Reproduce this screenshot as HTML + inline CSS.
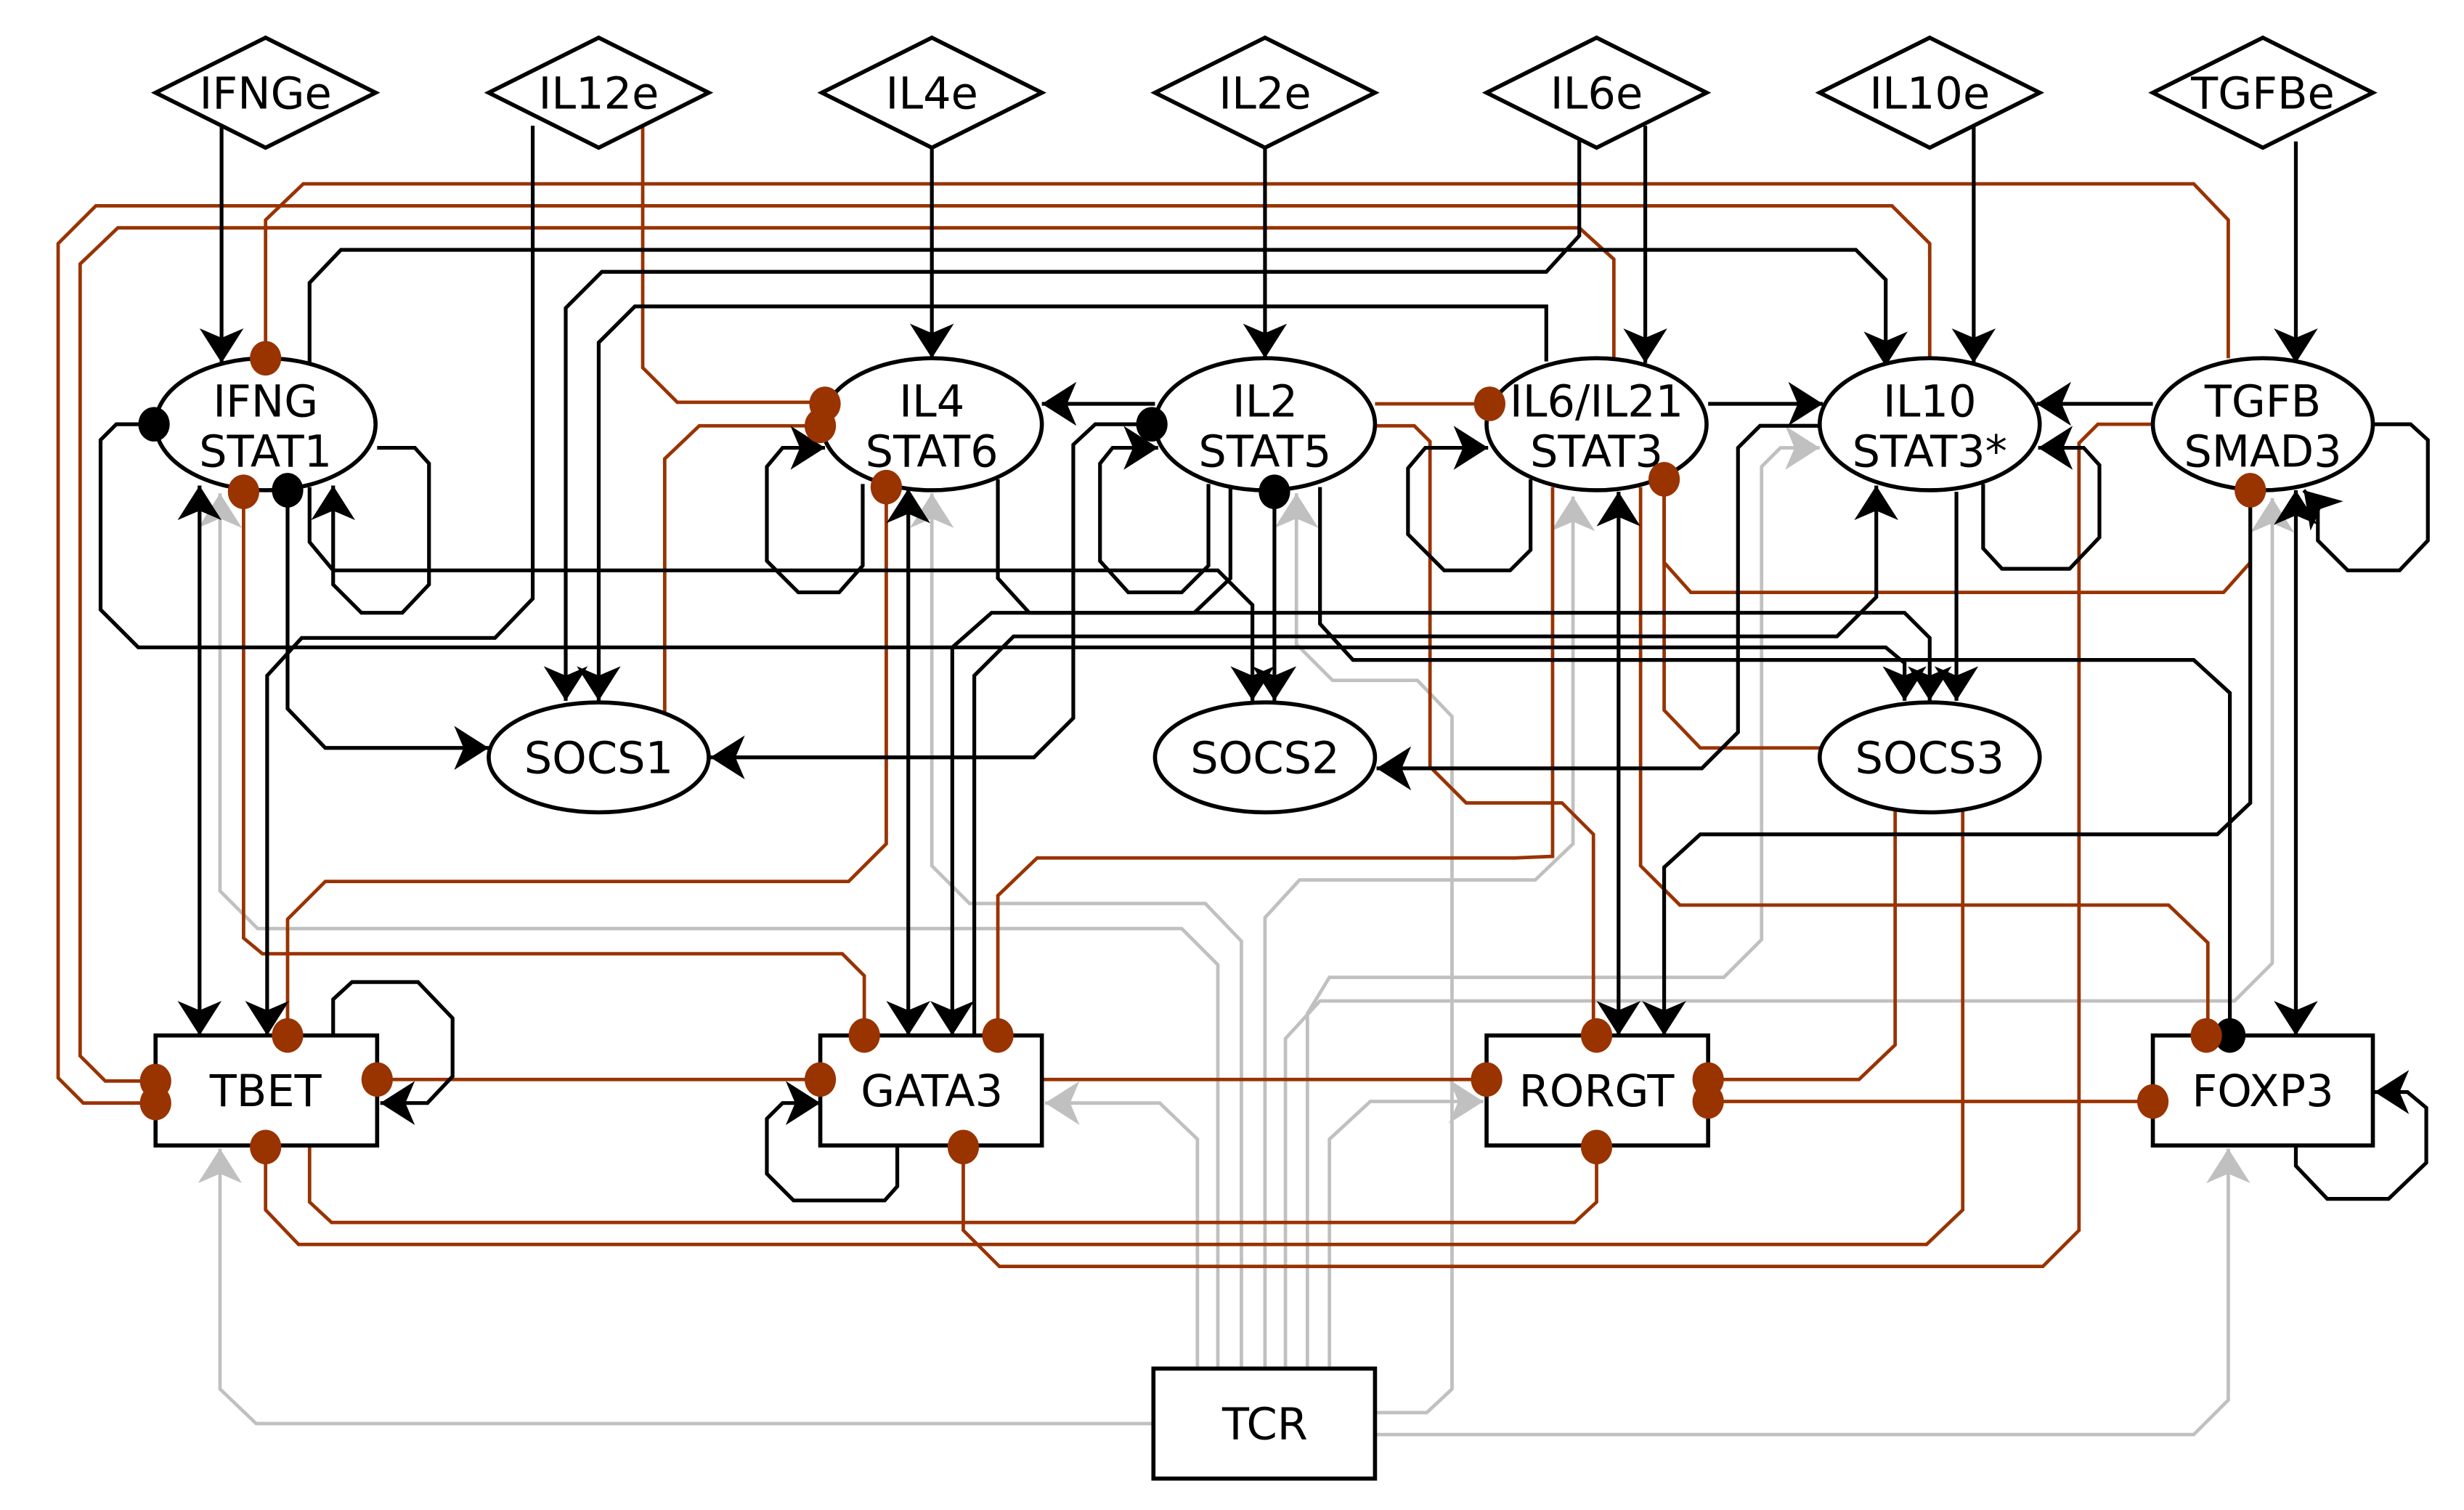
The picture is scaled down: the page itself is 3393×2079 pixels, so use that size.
<!DOCTYPE html>
<html><head><meta charset="utf-8"><style>
html,body{margin:0;padding:0;background:#fff}
svg{display:block}
text{font-family:"DejaVu Sans","Liberation Sans",sans-serif;font-size:28px;fill:#000}
</style></head><body>
<svg width="3393" height="2079" viewBox="0 0 1568 961" preserveAspectRatio="none" xmlns="http://www.w3.org/2000/svg">
<defs>
<marker id="ab" markerUnits="userSpaceOnUse" markerWidth="26" markerHeight="30" refX="22" refY="14" orient="auto-start-reverse" viewBox="0 0 26 30">
<path d="M0,0 L22,14 L0,28 L6,14 Z" fill="#000"/></marker>
<marker id="ag" markerUnits="userSpaceOnUse" markerWidth="26" markerHeight="30" refX="22" refY="14" orient="auto-start-reverse" viewBox="0 0 26 30">
<path d="M0,0 L22,14 L0,28 L6,14 Z" fill="#c0c0c0"/></marker>
</defs>
<rect width="1568" height="961" fill="#fff"/>

<g fill="none" stroke="#c0c0c0" stroke-width="2.2" marker-end="url(#ag)">
<path d="M734,906 H163 L140,884 V731"/>
<path d="M875,913 H1396 L1418,891 V731"/>
<path d="M875,899 H908 L924,884 V456 L902,433 H848 L825,410 V314"/>
<path d="M762,871 V725 L738,702 H665"/>
<path d="M775,871 V614 L752,591 H164 L140,567 V314"/>
<path d="M790,871 V599 L767,575 H617 L593,551 V314"/>
<path d="M805,871 V584 L827,560 H977 L1001,537 V316"/>
<path d="M818,871 V661 L840,637 H1422 L1446,613 V317"/>
<path d="M832,871 V645 L846,622 H1097 L1121,598 V297 L1133,285 H1158"/>
<path d="M846,871 V725 L872,701 H944"/>
</g>

<g fill="none" stroke="#993300" stroke-width="2.2">
<path d="M1418,228 V140 L1396,117 H193 L169,140 V228"/>
<path d="M1228,228 V155 L1204,131 H61 L37,155 V686 L53,702 H99"/>
<path d="M1027,228 V165 L1005,145 H75 L51,168 V672 L67,688 H99"/>
<path d="M409,80 V234 L431,256 H522"/>
<path d="M423,453 V292 L445,271 H522"/>
<path d="M875,257 H948"/>
<path d="M875,271 H900 L910,281 V488 L933,511 H994 L1014,531 V659"/>
<path d="M988,310 V545 L964,546 H660 L635,570 V659"/>
<path d="M1044,310 V551 L1069,576 H1380 L1405,600 V659"/>
<path d="M1059,305 V358 L1076,377 H1415 L1432,358 V313"/>
<path d="M1158,476 H1082 L1059,452 V305"/>
<path d="M564,310 V537 L540,561 H207 L183,585 V659"/>
<path d="M155,313 V597 L167,607 H536 L550,621 V659"/>
<path d="M1370,270 H1335 L1323,282 V783 L1300,806 H636 L613,783 V730"/>
<path d="M1206,515 V665 L1183,687 H1087"/>
<path d="M1249,515 V770 L1226,792 H190 L169,770 V730"/>
<path d="M197,730 V765 L211,778 H1002 L1016,765 V730"/>
<path d="M240,687 H522"/>
<path d="M663,687 H946"/>
<path d="M1087,701 H1370"/>
</g>

<g fill="none" stroke="#000" stroke-width="2.4">
<path d="M840,310 V397 L861,420 H1396 L1419,441 V659"/>
<g marker-end="url(#ab)">
<path d="M141,80 V231"/>
<path d="M593,94 V228"/>
<path d="M805,94 V228"/>
<path d="M1047,80 V231"/>
<path d="M1256,80 V231"/>
<path d="M1461,90 V231"/>
<path d="M197,231 V180 L217,159 H1181 L1200,178 V233"/>
<path d="M1005,88 V150 L984,173 H383 L360,196 V446"/>
<path d="M984,230 V195 H404 L381,218 V446"/>
<path d="M735,257 H663"/>
<path d="M1087,257 H1160"/>
<path d="M1370,257 H1296"/>
<path d="M1262,308 V349 L1274,362 H1317 L1336,342 V296 L1326,285 H1297"/>
<path d="M1511,270 H1534 L1545,280 V344 L1527,363 H1494 L1475,344 V322 L1466,312"/>
<path d="M240,285 H264 L273,295 V372 L256,390 H230 L212,372 V309"/>
<path d="M197,310 V345 L212,363 H775 L797,385 V446"/>
<path d="M549,308 V360 L534,377 H508 L488,357 V297 L498,285 H525"/>
<path d="M769,308 V360 L752,377 H718 L700,357 V295 L708,285 H737"/>
<path d="M974,305 V350 L961,363 H919 L896,340 V298 L907,285 H947"/>
<path d="M733,270 H697 L683,283 V457 L658,482 H452"/>
<path d="M183,313 V451 L207,476 H311"/>
<path d="M339,80 V381 L315,406 H192 L170,430 V659"/>
<path d="M635,305 V368 L655,390 H1212 L1228,406 V446"/>
<path d="M783,308 V368 L760,390 H631 L606,412 V659"/>
<path d="M620,659 V430 L645,405 H1169 L1194,380 V309"/>
<path d="M98,270 H74 L64,280 V388 L88,412 H1200 L1212,422 V446"/>
<path d="M811,313 V446"/>
<path d="M1158,271 H1120 L1106,285 V466 L1083,489 H876"/>
<path d="M1432,311 V511 L1411,531 H1082 L1059,552 V659"/>
<path d="M212,659 V636 L224,625 H266 L288,648 V685 L272,702 H242"/>
<path d="M571,730 V755 L563,764 H505 L488,747 V712 L498,702 H522"/>
<path d="M1461,730 V742 L1481,763 H1520 L1544,740 V705 L1532,695 H1511"/>
<path d="M1245,313 V446"/>
</g>
<g marker-start="url(#ab)" marker-end="url(#ab)">
<path d="M127,309 V659"/>
<path d="M578,311 V659"/>
<path d="M1030,313 V659"/>
<path d="M1461,312 V659"/>
</g>
</g>

<g fill="#fff" stroke="#000" stroke-width="2.6">
<polygon points="169,24 239,59 169,94 99,59"/>
<polygon points="381,24 451,59 381,94 311,59"/>
<polygon points="593,24 663,59 593,94 523,59"/>
<polygon points="805,24 875,59 805,94 735,59"/>
<polygon points="1016,24 1086,59 1016,94 946,59"/>
<polygon points="1228,24 1298,59 1228,94 1158,59"/>
<polygon points="1440,24 1510,59 1440,94 1370,59"/>
<ellipse cx="169" cy="270" rx="70" ry="42"/>
<ellipse cx="593" cy="270" rx="70" ry="42"/>
<ellipse cx="805" cy="270" rx="70" ry="42"/>
<ellipse cx="1016" cy="270" rx="70" ry="42"/>
<ellipse cx="1228" cy="270" rx="70" ry="42"/>
<ellipse cx="1440" cy="270" rx="70" ry="42"/>
<ellipse cx="381" cy="482" rx="70" ry="35"/>
<ellipse cx="805" cy="482" rx="70" ry="35"/>
<ellipse cx="1228" cy="482" rx="70" ry="35"/>
<rect x="99" y="659" width="141" height="70"/>
<rect x="522" y="659" width="141" height="70"/>
<rect x="946" y="659" width="141" height="70"/>
<rect x="1370" y="659" width="140" height="70"/>
<rect x="734" y="871" width="141" height="70"/>
</g>

<g text-anchor="middle">
<text x="169" y="69">IFNGe</text>
<text x="381" y="69">IL12e</text>
<text x="593" y="69">IL4e</text>
<text x="805" y="69">IL2e</text>
<text x="1016" y="69">IL6e</text>
<text x="1228" y="69">IL10e</text>
<text x="1440" y="69">TGFBe</text>
<text x="169" y="265">IFNG</text><text x="169" y="297">STAT1</text>
<text x="593" y="265">IL4</text><text x="593" y="297">STAT6</text>
<text x="805" y="265">IL2</text><text x="805" y="297">STAT5</text>
<text x="1016" y="265">IL6/IL21</text><text x="1016" y="297">STAT3</text>
<text x="1228" y="265">IL10</text><text x="1228" y="297">STAT3*</text>
<text x="1440" y="265">TGFB</text><text x="1440" y="297">SMAD3</text>
<text x="381" y="492">SOCS1</text>
<text x="805" y="492">SOCS2</text>
<text x="1228" y="492">SOCS3</text>
<text x="169" y="704">TBET</text>
<text x="593" y="704">GATA3</text>
<text x="1016" y="704">RORGT</text>
<text x="1440" y="704">FOXP3</text>
<text x="805" y="916">TCR</text>
</g>

<g fill="#993300">
<ellipse cx="169" cy="228" rx="10" ry="11"/>
<ellipse cx="525" cy="257" rx="10" ry="11"/>
<ellipse cx="522" cy="271" rx="10" ry="11"/>
<ellipse cx="948" cy="257" rx="10" ry="11"/>
<ellipse cx="155" cy="313" rx="10" ry="11"/>
<ellipse cx="564" cy="310" rx="10" ry="11"/>
<ellipse cx="1059" cy="305" rx="10" ry="11"/>
<ellipse cx="1432" cy="312" rx="10" ry="11"/>
<ellipse cx="99" cy="688" rx="10" ry="11"/>
<ellipse cx="99" cy="702" rx="10" ry="11"/>
<ellipse cx="183" cy="659" rx="10" ry="11"/>
<ellipse cx="240" cy="687" rx="10" ry="11"/>
<ellipse cx="169" cy="730" rx="10" ry="11"/>
<ellipse cx="550" cy="659" rx="10" ry="11"/>
<ellipse cx="635" cy="659" rx="10" ry="11"/>
<ellipse cx="522" cy="687" rx="10" ry="11"/>
<ellipse cx="613" cy="730" rx="10" ry="11"/>
<ellipse cx="1016" cy="659" rx="10" ry="11"/>
<ellipse cx="946" cy="687" rx="10" ry="11"/>
<ellipse cx="1087" cy="687" rx="10" ry="11"/>
<ellipse cx="1087" cy="701" rx="10" ry="11"/>
<ellipse cx="1016" cy="730" rx="10" ry="11"/>
<ellipse cx="1370" cy="701" rx="10" ry="11"/>
</g>
<g fill="#000">
<ellipse cx="98" cy="270" rx="10" ry="11"/>
<ellipse cx="183" cy="312" rx="10" ry="11"/>
<ellipse cx="733" cy="270" rx="10" ry="11"/>
<ellipse cx="811" cy="313" rx="10" ry="11"/>
<ellipse cx="1419" cy="659" rx="10" ry="11"/>
</g>
<ellipse cx="1404" cy="659" rx="10" ry="11" fill="#993300"/>
</svg>
</body></html>
